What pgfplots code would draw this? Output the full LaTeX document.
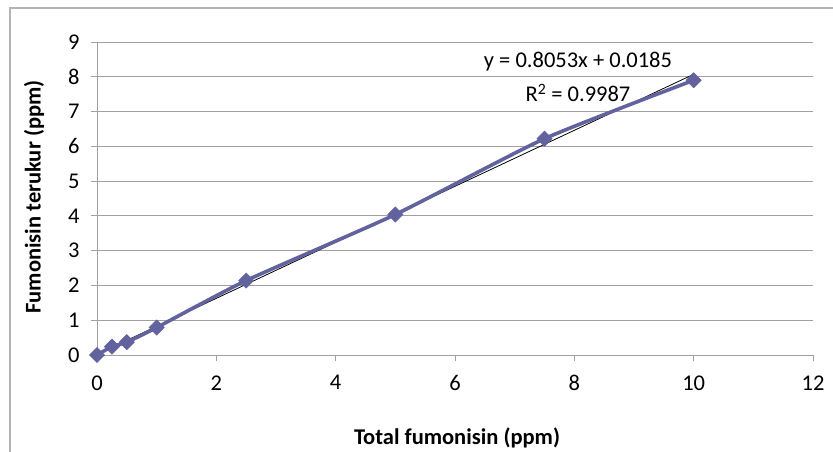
\documentclass[border=0pt]{standalone}
\usepackage{pgfplots}
\pgfplotsset{compat=1.18}
\usepackage{fontspec}
\setmainfont{Carlito}
\definecolor{serie}{RGB}{98,98,158}
\definecolor{gridgray}{RGB}{160,160,160}
\newcommand{\chartfont}{\fontsize{22.5bp}{26bp}\selectfont}
\begin{document}
\begin{tikzpicture}[x=1bp,y=1bp]
  \useasboundingbox (0,0) rectangle (833,452);
  % frame of the chart area (left and top edges visible)
  \draw[gridgray!80, line width=1.2bp] (10,0) -- (10,444) -- (833,444);
  \begin{axis}[
      at={(97bp,97bp)}, anchor=south west,
      scale only axis,
      width=716bp, height=313bp,
      xmin=0, xmax=12, ymin=0, ymax=9,
      xtick={0,2,...,12}, ytick={0,1,...,9},
      axis y line*=left, axis x line*=bottom,
      axis line style={gridgray, line width=0.8bp},
      ymajorgrids, grid style={gridgray, line width=0.8bp},
      major tick length=6bp,
      tick style={gridgray, line width=0.8bp},
      tick align=outside,
      tick label style={font=\chartfont},
      xticklabel style={yshift=-11bp},
      yticklabel style={xshift=-8bp},
      /pgf/number format/assume math mode=true,
      clip=false,
    ]
    % linear trendline
    \addplot[black, line width=0.8bp] coordinates {(0,0.0185) (10,8.0715)};
    % measured values
    \addplot[serie, line width=3.6bp, smooth, tension=0.35,
      mark=square*, mark size=5.4bp,
      mark options={rotate=45, fill=serie, draw=serie, line width=0.5bp}]
      coordinates {
        (0,0) (0.25,0.24) (0.5,0.37) (1,0.79) (2.5,2.14) (5,4.04) (7.5,6.22) (10,7.9)
      };
  \end{axis}
  \node[font=\chartfont\bfseries] at (457,14) {Total fumonisin (ppm)};
  \node[font=\chartfont\bfseries, rotate=90] at (34,255) {Fumonisin terukur (ppm)};
  \node[font=\chartfont] at (578,390) {y = 0.8053x + 0.0185};
  \node[font=\chartfont] at (578,359) {R\textsuperscript{2} = 0.9987};
\end{tikzpicture}
\end{document}
